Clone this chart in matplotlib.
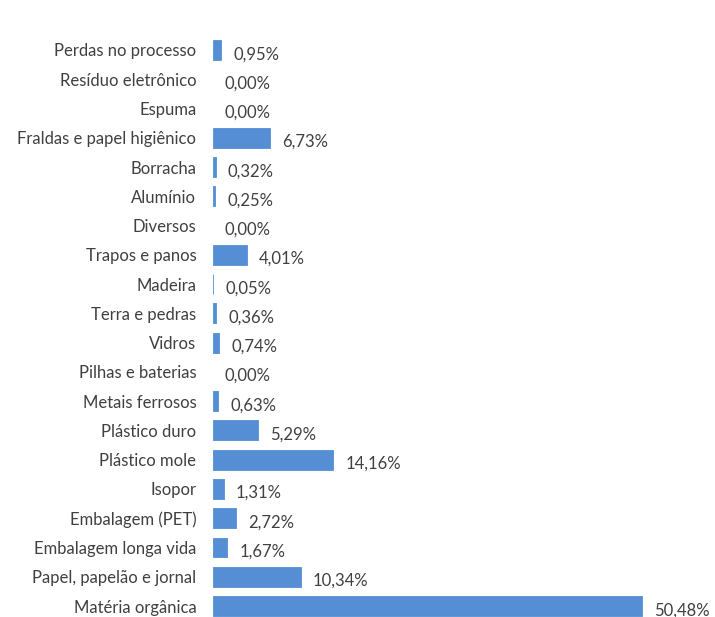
import matplotlib.pyplot as plt

categorias = [
    "Perdas no processo", "Resíduo eletrônico", "Espuma", "Fraldas e papel higiênico",
    "Borracha", "Alumínio", "Diversos", "Trapos e panos", "Madeira", "Terra e pedras",
    "Vidros", "Pilhas e baterias", "Metais ferrosos", "Plástico duro", "Plástico mole",
    "Isopor", "Embalagem (PET)", "Embalagem longa vida", "Papel, papelão e jornal",
    "Matéria orgânica",
]
valores = [0.95, 0.00, 0.00, 6.73, 0.32, 0.25, 0.00, 4.01, 0.05, 0.36,
           0.74, 0.00, 0.63, 5.29, 14.16, 1.31, 2.72, 1.67, 10.34, 50.48]

plt.rcParams['font.family'] = ['Lato', 'DejaVu Sans']

fig = plt.figure(figsize=(7.15, 6.17), dpi=100)
ax = fig.add_axes([213 / 715, 0, 1 - 213 / 715, 1])

n = len(categorias)
pos = [n - 1 - i for i in range(n)]
cores = ['#558ED5' if v > 0 else 'none' for v in valores]
ax.barh(pos, valores, height=0.68, color='#558ED5', edgecolor=cores, linewidth=0.6)

for p, v in zip(pos, valores):
    ax.annotate(f"{v:.2f}%".replace('.', ','), (v, p), xytext=(8.6, -3),
                textcoords='offset points', va='center', ha='left',
                fontsize=12, color='#404040')

ax.set_yticks(pos)
ax.set_yticklabels(categorias, fontsize=12, color='#404040')
ax.tick_params(axis='y', length=0, pad=12)
ax.set_xticks([])

px = 429 / 50.48
ax.set_xlim(0, (715 - 213) / px)
py = (606 - 50) / 19
ax.set_ylim(-(617 - 606) / py, 19 + 50 / py)

for s in ax.spines.values():
    s.set_visible(False)

fig.savefig("out.png", dpi=100)
